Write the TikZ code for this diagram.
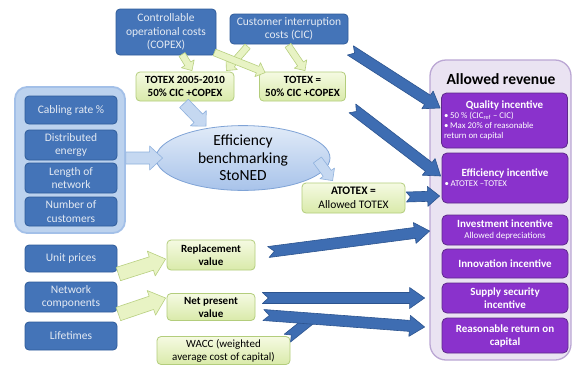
\documentclass[tikz,border=0pt]{standalone}
\usepackage{fontspec}
\setmainfont{Carlito}
\usetikzlibrary{calc,shapes.geometric}

\definecolor{dkblue}{HTML}{4474B8}
\definecolor{dkline}{HTML}{2F5C9A}
\definecolor{dktext}{HTML}{E4EAF3}
\definecolor{grtop}{HTML}{F5FAE2}
\definecolor{grbot}{HTML}{D9EAAA}
\definecolor{grline}{HTML}{B3CD7C}
\definecolor{pp}{HTML}{8A32CC}
\definecolor{ppline}{HTML}{5E2A8A}
\definecolor{revfill}{HTML}{EAE3F2}
\definecolor{revline}{HTML}{BBA7D4}
\definecolor{lbfill}{HTML}{BCD2EE}
\definecolor{lbline}{HTML}{A3C0E8}
\definecolor{elltop}{HTML}{E1EBF8}
\definecolor{ellbot}{HTML}{A8C3EA}
\definecolor{ellline}{HTML}{7FA3D6}
\definecolor{barfill}{HTML}{3E6DB2}
\definecolor{barline}{HTML}{2C548F}
\definecolor{garfill}{HTML}{E8F3C4}
\definecolor{garline}{HTML}{B8D080}
\definecolor{larfill}{HTML}{C5D8F1}
\definecolor{larline}{HTML}{8FB1DD}

% block arrow: style, tail, tip, half shaft, half head, head length, tail notch
\newcommand{\blockarrow}[7]{%
  \coordinate (ba-t) at #2;
  \coordinate (ba-p) at #3;
  \coordinate (ba-h) at ($(ba-p)!#6!(ba-t)$);
  \path[#1] ($(ba-t)!#4!90:(ba-p)$) -- ($(ba-h)!#4!90:(ba-p)$)
    -- ($(ba-h)!#5!90:(ba-p)$) -- (ba-p) -- ($(ba-h)!#5!-90:(ba-p)$)
    -- ($(ba-h)!#4!-90:(ba-p)$) -- ($(ba-t)!#4!-90:(ba-p)$)
    -- ($(ba-t)!#7!(ba-p)$) -- cycle;
}

\tikzset{
  darkbox/.style={draw=dkline, fill=dkblue, rounded corners=4pt, line width=0.8pt,
    text=dktext, align=center, font=\fontsize{11.5}{13.5}\selectfont, inner sep=1pt},
  greenbox/.style={draw=grline, top color=grtop, bottom color=grbot, rounded corners=4pt,
    line width=0.8pt, align=center, font=\fontsize{11}{13}\selectfont, inner sep=1pt},
  boldgreen/.style={greenbox, font=\fontsize{11}{13}\selectfont\bfseries},
  purpbox/.style={draw=ppline, fill=pp, rounded corners=5pt, line width=0.8pt,
    text=white, align=center, minimum width=126pt, inner sep=1pt},
  ptitle/.style={font=\fontsize{11}{13}\selectfont\bfseries},
  bluearrow/.style={fill=barfill, draw=barline, line width=0.6pt, line join=round},
  greenarrow/.style={fill=garfill, draw=garline, line width=0.6pt, line join=round},
  lightarrow/.style={fill=larfill, draw=larline, line width=0.6pt, line join=round},
}

\begin{document}
\begin{tikzpicture}[x=1pt,y=-1pt]
\useasboundingbox (0,0) rectangle (583,365);
\fill[white] (0,0) rectangle (583,365);

% containers
\node[draw=revline, fill=revfill, line width=1.3pt, rounded corners=16pt,
  minimum width=141pt, minimum height=300pt] (rev) at (500.5,210) {};
\node[font=\fontsize{15.5}{17}\selectfont\bfseries] (revtitle) at (501,79) {Allowed revenue};
\node[draw=lbline, fill=lbfill, line width=1.8pt, rounded corners=12pt,
  minimum width=110pt, minimum height=146pt] (leftc) at (70,160) {};

% input boxes
\node[darkbox, minimum width=100pt, minimum height=46pt] (copex) at (166,32)
  {Controllable\\operational costs\\(COPEX)};
\node[darkbox, minimum width=118pt, minimum height=30pt] (cic) at (289,29)
  {Customer interruption\\costs (CIC)};
\node[darkbox, minimum width=92pt, minimum height=28pt] (cab) at (71,110) {Cabling rate \%};
\node[darkbox, minimum width=92pt, minimum height=30pt] (dist) at (71,145) {Distributed\\energy};
\node[darkbox, minimum width=92pt, minimum height=30pt] (len) at (71,178) {Length of\\network};
\node[darkbox, minimum width=92pt, minimum height=29pt] (num) at (71,211.5) {Number of\\customers};
\node[darkbox, minimum width=92pt, minimum height=27pt] (unit) at (71,258.5) {Unit prices};
\node[darkbox, minimum width=92pt, minimum height=30pt] (netc) at (71,297) {Network\\components};
\node[darkbox, minimum width=92pt, minimum height=28pt] (life) at (71,336) {Lifetimes};

% intermediate boxes
\node[boldgreen, minimum width=98pt, minimum height=29pt]
  (tot1) at (185,86.5) {TOTEX 2005-2010\\50\% CIC +COPEX};
\node[boldgreen, minimum width=86pt, minimum height=29pt]
  (tot2) at (302.5,86.5) {TOTEX =\\50\% CIC +COPEX};
\node[ellipse, draw=ellline, top color=elltop, bottom color=ellbot, line width=0.8pt,
  minimum width=174pt, minimum height=62pt, inner sep=0pt, align=center,
  font=\fontsize{15.5}{17.5}\selectfont] (eff) at (243,158) {Efficiency\\benchmarking\\StoNED};
\node[greenbox, font=\fontsize{11.5}{13.5}\selectfont, minimum width=103pt, minimum height=30pt]
  (atotex) at (353.5,198) {\textbf{ATOTEX =}\\Allowed TOTEX};
\node[boldgreen, minimum width=88pt, minimum height=30pt]
  (repl) at (211,255) {Replacement\\value};
\node[boldgreen, minimum width=88pt, minimum height=27pt]
  (npv) at (211,307) {Net present\\value};
\node[greenbox, minimum width=133pt, minimum height=28pt] (wacc) at (223.5,350.5)
  {WACC (weighted\\average cost of capital)};

% revenue components
\node[purpbox, minimum height=55pt] (quality) at (504.5,120.5) {\parbox{121pt}{%
  \centering\fontsize{11}{12.5}\selectfont\bfseries Quality incentive\par
  \raggedright\mdseries\fontsize{8.8}{10.2}\selectfont
  \makebox[0.7em][l]{\textbullet}50 \% (CIC\textsubscript{ref} -- CIC)\\
  \makebox[0.7em][l]{\textbullet}Max 20\% of reasonable\\
  return on capital}};
\node[purpbox, minimum height=50pt] (effinc) at (505,178) {\parbox{121pt}{%
  \centering\fontsize{11}{13}\selectfont\bfseries Efficiency incentive\par
  \raggedright\mdseries\fontsize{8.8}{10.2}\selectfont
  \makebox[0.7em][l]{\textbullet}ATOTEX --TOTEX}};
\node[purpbox, minimum height=30pt] (invest) at (505,230)
  {{\fontsize{11}{12}\selectfont\bfseries Investment incentive}\\[-1pt]
   {\fontsize{9}{10}\selectfont Allowed depreciations}};
\node[purpbox, ptitle, minimum height=29pt] (innov) at (505,263.5) {Innovation incentive};
\node[purpbox, ptitle, minimum height=30pt] (supply) at (505,298) {Supply security\\incentive};
\node[purpbox, ptitle, minimum height=35pt] (reason) at (505,335.5) {Reasonable return on\\capital};

% cost inputs into TOTEX
\blockarrow{greenarrow}{($(copex.south)+(16,-1)$)}{($(tot1.north)+(7,-1)$)}{3.5pt}{7.5pt}{8pt}{0pt}
\blockarrow{greenarrow}{($(cic.south)+(-1,1)$)}{($(tot2.north)+(2.5,-1)$)}{3.5pt}{7.5pt}{8pt}{0pt}
\blockarrow{greenarrow}{($(cic.south west)+(18,2)$)}{($(tot1.north east)+(-8,-1)$)}{3.5pt}{7.5pt}{8pt}{0pt}
\blockarrow{greenarrow}{($(copex.south east)+(-2,-3)$)}{($(tot2.north west)+(6,1)$)}{3.5pt}{7.5pt}{8pt}{0pt}

% benchmarking
\blockarrow{lightarrow}{($(leftc.east)+(0,-2)$)}{($(eff.west)+(7,0)$)}{6pt}{12pt}{13pt}{0pt}
\blockarrow{lightarrow}{($(tot1.south)+(-1,2)$)}{($(eff.north)+(-37,1)$)}{6pt}{11pt}{11pt}{0pt}
\blockarrow{lightarrow}{($(eff.east)+(-13,2)$)}{($(atotex.north west)+(31,-2)$)}{5pt}{9pt}{9pt}{0pt}

% asset values
\blockarrow{greenarrow}{($(unit.east)+(1,15.5)$)}{($(repl.west)+(-1,4)$)}{7pt}{13pt}{15pt}{0pt}
\blockarrow{greenarrow}{($(netc.east)+(1,17)$)}{($(npv.west)+(-1,-9)$)}{7pt}{13pt}{15pt}{0pt}

% into allowed revenue
\blockarrow{bluearrow}{($(cic.south east)+(2,6)$)}{($(quality.west)+(-1,-12.5)$)}{5.5pt}{10.5pt}{15pt}{5pt}
\blockarrow{bluearrow}{($(tot2.south east)+(6.5,7)$)}{($(effinc.west)+(-1,-2)$)}{5.5pt}{10.5pt}{15pt}{5pt}
\blockarrow{bluearrow}{($(atotex.east)+(1,-1)$)}{($(effinc.west)+(-2,18)$)}{5pt}{10pt}{12pt}{4pt}
\blockarrow{bluearrow}{($(repl.east)+(13,-3)$)}{($(invest.west)+(-12,1)$)}{5.5pt}{10.5pt}{15pt}{6pt}
\blockarrow{bluearrow}{($(npv.east)+(7,-9)$)}{($(supply.west)+(-17,0)$)}{5.5pt}{10.5pt}{15pt}{6pt}
\blockarrow{bluearrow}{($(wacc.north east)+(-3,2)$)}{($(wacc.north east)+(22,-18)$)}{5pt}{5pt}{1pt}{5pt}
\blockarrow{bluearrow}{($(npv.east)+(8,8)$)}{($(reason.west)+(-17,-8.5)$)}{5.5pt}{10.5pt}{15pt}{6pt}
\end{tikzpicture}
\end{document}
